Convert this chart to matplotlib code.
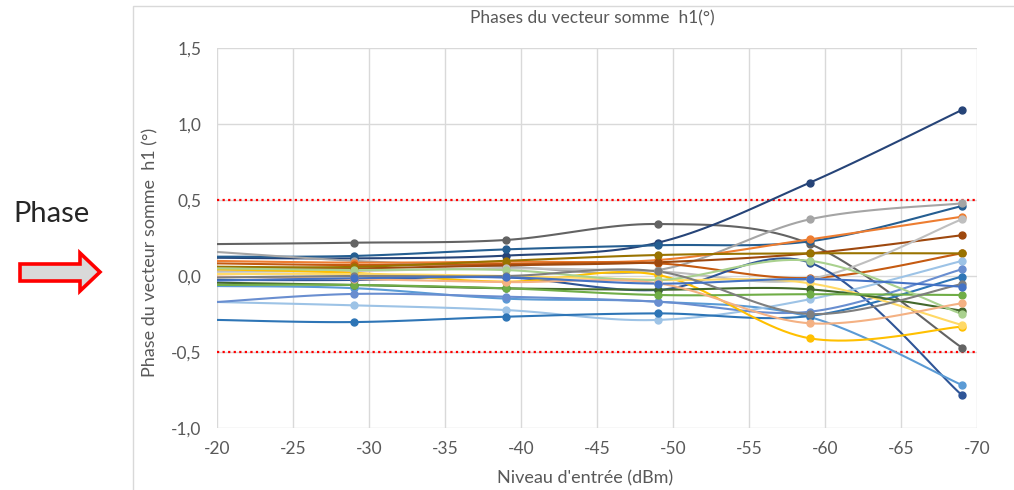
"""
Phase du vecteur somme h1 en fonction du niveau d'entrée (style Excel, courbes lissées).

Output:
    out.png
"""

import matplotlib

matplotlib.use("Agg")
import matplotlib.pyplot as plt
import numpy as np
from matplotlib.patches import Polygon, Rectangle
from matplotlib.ticker import FuncFormatter, MultipleLocator


# niveaux d'entrée (dBm); le premier point tombe sur le bord gauche, sans marqueur
LEVELS = [-20, -29, -39, -49, -59, -69]

SERIES_COLORS = [
    "#636363", "#264478", "#255E91", "#A5A5A5", "#ED7D31", "#C55A11",
    "#9E480E", "#997300", "#BFBFBF", "#2F5597", "#5B9BD5", "#9DC3E6",
    "#698ED0", "#2E75B6", "#FFC000", "#FFD966", "#43682B", "#70AD47",
    "#A9D18E", "#F4B183", "#7F7F7F", "#4472C4",
]

SERIES_VALUES = [
    [0.21, 0.219, 0.237, 0.342, 0.211, -0.471],
    [0.12, 0.116, 0.134, 0.219, 0.614, 1.092],
    [0.127, 0.132, 0.175, 0.202, 0.228, 0.46],
    [0.158, 0.10, 0.061, 0.039, 0.373, 0.478],
    [0.099, 0.088, 0.094, 0.105, 0.241, 0.39],
    [0.083, 0.072, 0.079, 0.083, -0.013, 0.149],
    [0.044, 0.05, 0.07, 0.09, 0.149, 0.268],
    [0.061, 0.06, 0.10, 0.138, 0.149, 0.149],
    [0.028, 0.033, 0.05, 0.03, -0.02, 0.373],
    [-0.026, -0.026, -0.009, -0.092, 0.088, -0.783],
    [-0.066, -0.08, -0.149, -0.169, -0.27, -0.717],
    [-0.171, -0.193, -0.224, -0.289, -0.153, 0.099],
    [-0.171, -0.118, -0.136, -0.169, -0.235, 0.044],
    [-0.289, -0.303, -0.268, -0.246, -0.263, -0.004],
    [0.044, 0.02, -0.037, 0.007, -0.41, -0.333],
    [0.013, 0.013, 0.0, -0.026, -0.048, -0.322],
    [-0.044, -0.059, -0.081, -0.09, -0.088, -0.228],
    [-0.059, -0.059, -0.081, -0.125, -0.12, -0.125],
    [0.05, 0.04, 0.039, -0.026, 0.10, -0.25],
    [-0.004, -0.02, -0.04, -0.048, -0.311, -0.18],
    [-0.01, 0.0, 0.0, 0.03, -0.25, -0.053],
    [-0.03, -0.015, -0.009, -0.05, -0.02, -0.07],
]

LIMIT_LEVELS = [0.5, -0.5]

X_TICKS = [-20, -25, -30, -35, -40, -45, -50, -55, -60, -65, -70]

TEXT_GREY = "#595959"
GRID_GREY = "#D9D9D9"
FONT = ["Lato", "DejaVu Sans"]

W, H = 1014, 490


def fx(px):
    return px / W


def fy(py):
    return 1 - py / H


def excel_smooth(xs, ys, steps=24):
    """Bezier smoothing like Excel's 'smoothed line' option."""
    pts = np.column_stack([xs, ys]).astype(float)
    padded = np.vstack([pts[0], pts, pts[-1]])
    t = np.linspace(0, 1, steps)[:, None]
    out = []
    for i in range(len(pts) - 1):
        p0, p1, p2, p3 = padded[i], padded[i + 1], padded[i + 2], padded[i + 3]
        c1 = p1 + (p2 - p0) / 6
        c2 = p2 - (p3 - p1) / 6
        seg = ((1 - t) ** 3) * p1 + 3 * ((1 - t) ** 2) * t * c1 + 3 * (1 - t) * t**2 * c2 + t**3 * p2
        out.append(seg if i == 0 else seg[1:])
    curve = np.vstack(out)
    return curve[:, 0], curve[:, 1]


def main() -> None:
    plt.rcParams["font.family"] = FONT

    fig = plt.figure(figsize=(W / 100, H / 100), dpi=100)
    fig.patch.set_facecolor("white")

    # cadre du graphique Excel (bords droit et bas hors image)
    fig.patches.append(
        Rectangle((fx(133), fy(495)), fx(900), (495 - 6) / H, transform=fig.transFigure,
                  fill=False, edgecolor=GRID_GREY, linewidth=1.0)
    )

    ax = fig.add_axes([fx(217), fy(428), fx(977 - 217), (428 - 48) / H])
    ax.set_xlim(-20, -70)
    ax.set_ylim(-1.0, 1.5)
    ax.yaxis.set_major_locator(MultipleLocator(0.5))
    ax.set_xticks(X_TICKS)
    ax.xaxis.set_major_formatter(FuncFormatter(lambda v, _: f"{v:.0f}"))
    ax.yaxis.set_major_formatter(FuncFormatter(lambda v, _: f"{v:.1f}".replace(".", ",")))
    ax.grid(True, color=GRID_GREY, linewidth=1.0)
    ax.set_axisbelow(True)
    for spine in ax.spines.values():
        spine.set_visible(False)
    ax.tick_params(length=0, labelsize=12.5, labelcolor=TEXT_GREY)
    ax.tick_params(axis="y", pad=11)
    ax.tick_params(axis="x", pad=9)

    for level in LIMIT_LEVELS:
        ax.axhline(level, color="#FF0000", linestyle=(0, (1, 1.5)), linewidth=1.6, zorder=1)

    for color, values in zip(SERIES_COLORS, SERIES_VALUES):
        sx, sy = excel_smooth(LEVELS, values)
        ax.plot(sx, sy, color=color, linewidth=1.5, zorder=2)
        ax.plot(LEVELS[1:], values[1:], linestyle="none", marker="o", markersize=5,
                color=color, zorder=3)

    fig.text(fx(592), fy(18), "Phases du vecteur somme  h1(°)", ha="center", va="center",
             fontsize=12.5, color=TEXT_GREY)
    fig.text(fx(585), fy(478), "Niveau d'entrée (dBm)", ha="center", va="center",
             fontsize=13, color=TEXT_GREY)
    fig.text(fx(150), fy(252), "Phase du vecteur somme  h1 (°)", ha="center", va="center",
             rotation=90, fontsize=13, color=TEXT_GREY)

    # annotation à gauche
    fig.text(fx(51), fy(214), "Phase", ha="center", va="center", fontsize=21,
             color="#262626")
    arrow_px = [(20, 264), (80, 264), (80, 253), (100, 272), (80, 291), (80, 281), (20, 281)]
    fig.patches.append(
        Polygon([(fx(x), fy(y)) for x, y in arrow_px], closed=True, transform=fig.transFigure,
                facecolor="#D9D9D9", edgecolor="#FF0000", linewidth=2.6, joinstyle="miter")
    )

    fig.savefig("out.png", dpi=100)
    plt.close(fig)


if __name__ == "__main__":
    main()
